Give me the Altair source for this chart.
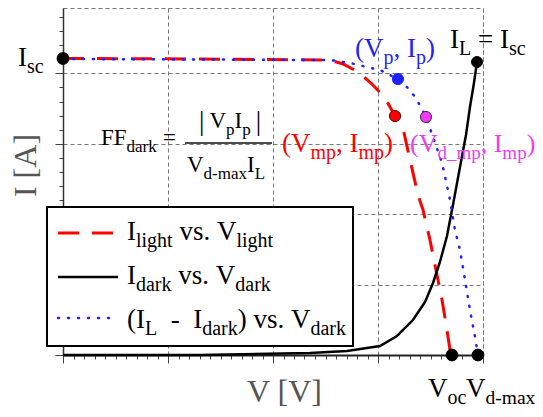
import altair as alt
import pandas as pd

FONT = "Liberation Serif"

# ---------------- data (V, A) ----------------
light_v = [0, 1.305, 2.543, 2.667, 2.810, 2.943, 3.067, 3.162, 3.248, 3.305, 3.381, 3.429,
           3.495, 3.562, 3.610, 3.657, 3.686, 3.705]
light_i = [4.212, 4.205, 4.190, 4.134, 4.020, 3.849, 3.651, 3.395, 3.153, 2.770, 2.273, 2.060,
           1.634, 1.136, 0.781, 0.355, 0.071, 0.0]

diff_v = [0, 2.543, 2.733, 3.019, 3.190, 3.305, 3.371, 3.457, 3.524, 3.610, 3.686, 3.733,
          3.781, 3.829, 3.876, 3.924, 3.952]
diff_i = [4.205, 4.190, 4.148, 4.048, 3.920, 3.764, 3.622, 3.381, 3.097, 2.727, 2.202, 1.776,
          1.491, 1.065, 0.639, 0.256, 0.0]

dark_v = [0, 1.305, 2.352, 2.705, 3.019, 3.181, 3.333, 3.448, 3.524, 3.590, 3.657, 3.714,
          3.781, 3.838, 3.876, 3.914, 3.943]
dark_i = [0.0, 0.0, 0.028, 0.057, 0.128, 0.270, 0.497, 0.753, 1.023, 1.321, 1.690, 2.131,
          2.670, 3.125, 3.523, 3.864, 4.162]

point_names = ["Isc", "IL", "Vp", "Vmp", "Vdmp", "Voc", "Vdmax"]
point_v = [0.0, 3.943, 3.190, 3.162, 3.457, 3.705, 3.952]
point_i = [4.212, 4.162, 3.920, 3.395, 3.381, 0.0, 0.0]

# ---------------- layout / style ----------------
W, H = 420, 347
XPX = 105.0           # px per volt
YPX = 70.4            # px per amp
YMAX = H / YPX
X0, YB = 63, 355      # page position of origin

RED, BLUE, MAG, BLK = "#ff0000", "#1f1fff", "#f03cf0", "#000000"
point_fill = [BLK, BLK, BLUE, RED, MAG, BLK, BLK]
point_stroke = [BLK, BLK, BLUE, "#550000", "#552255", BLK, BLK]
point_size = [140, 120, 125, 125, 125, 140, 140]


def pv(px):
    return (px - X0) / XPX


def pi(py):
    return (YB - py) / YPX


CW = {'I': 0.333, 'V': 0.722, 'L': 0.611, 'F': 0.556, 'A': 0.722, 's': 0.389, 'c': 0.444,
      'o': 0.5, 'p': 0.5, 'm': 0.778, 'd': 0.5, 'a': 0.444, 'r': 0.333, 'k': 0.5, 'l': 0.278,
      'i': 0.278, 'g': 0.5, 'h': 0.5, 't': 0.278, 'x': 0.5, 'v': 0.5, '.': 0.25, ',': 0.25,
      ' ': 0.25, '(': 0.333, ')': 0.333, '-': 0.333, '_': 0.5, '=': 0.564, '|': 0.2}


def tw(s, size):
    return sum(CW.get(c, 0.5) for c in s) * size


def build(segs, x0, y0, color, main=27, sub=20, big=27, sub_dy=7):
    out = []
    x = x0
    for s, kind in segs:
        if kind == "gap":
            x += s
            continue
        size = {"n": main, "s": sub, "b": big}[kind]
        dy = sub_dy if kind == "s" else (2 if kind == "b" else 0)
        word = ""
        for ch in s + "\0":
            if ch in (" ", "\0"):
                if word:
                    out.append(dict(text=word, v=pv(x), i=pi(y0 + dy), size=size, color=color))
                    x += tw(word, size)
                    word = ""
                if ch == " ":
                    x += tw(" ", size)
            else:
                word += ch
    return out


texts = []
texts += build([("I", "n"), ("sc", "s")], 18, 66, BLK)
texts += build([("I", "n"), ("L", "s"), (" = I", "n"), ("sc", "s")], 450, 48, BLK)
texts += build([("(V", "n"), ("p", "s"), (", I", "n"), ("p", "s"), (")", "n")], 355, 57, BLUE)
texts += build([("(V", "n"), ("mp", "s"), (", I", "n"), ("mp", "s"), (")", "n")], 282, 152, RED)
texts += build([("(V", "n"), ("d_mp", "s"), (", I", "n"), ("mp", "s"), (")", "n")], 410, 152, MAG,
               main=26, sub=19)
texts += build([("V", "n"), ("oc", "s")], 428, 397, BLK)
texts += build([("V", "n"), ("d-max", "s")], 466, 397, BLK, sub=19.5)
# FF formula
texts += build([("FF", "n"), ("dark", "s")], 101, 145, BLK, main=23, sub=17)
texts += build([("=", "n")], 163, 145, BLK, main=23, sub=17)
texts += build([("|", "b"), (5, "gap"), ("V", "n"), ("p", "s"), ("I", "n"), ("p", "s"),
                (5, "gap"), ("|", "b")], 199, 128, BLK, main=23, sub=17, big=27)
texts += build([("V", "n"), ("d-max", "s"), ("I", "n"), ("L", "s")], 187, 172, BLK, main=23, sub=17)
# legend texts
texts += build([("I", "n"), ("light", "s"), (" vs. V", "n"), ("light", "s")], 127, 240, BLK)
texts += build([("I", "n"), ("dark", "s"), (" vs. V", "n"), ("dark", "s")], 127, 284, BLK)
texts += build([("(I", "n"), ("L", "s"), ("  -  I", "n"), ("dark", "s"), (") vs. V", "n"),
                ("dark", "s")], 127, 328, BLK)
text_df = pd.DataFrame(texts)

# ---------------- scales / axes ----------------
xs = alt.Scale(domain=[0, 4], nice=False, zero=False)
ys = alt.Scale(domain=[0, YMAX], nice=False, zero=False)
major = "abs(datum.value - round(datum.value)) < 0.001"

xaxis = alt.Axis(
    values=[round(k * 0.1, 1) for k in range(41)], labels=False,
    grid=True, gridDash=[4, 3], gridColor="#777777", gridWidth=1,
    gridOpacity={"condition": {"test": major, "value": 1}, "value": 0},
    tickSize={"condition": {"test": major, "value": 8}, "value": 4},
    tickColor="#444444", tickWidth=1, domainColor="#222222", domainWidth=2,
    title="V [V]", titleFont=FONT, titleFontSize=32, titleFontWeight="normal",
    titleColor="#555555", titleX=221, titleY=46, titleAlign="center",
    titleBaseline="alphabetic", titleAngle=0,
)
yaxis = alt.Axis(
    values=[round(k * 0.2, 1) for k in range(25)], labels=False,
    grid=True, gridDash=[4, 3], gridColor="#777777", gridWidth=1,
    gridOpacity={"condition": {"test": major, "value": 1}, "value": 0},
    tickSize={"condition": {"test": major, "value": 8}, "value": 4},
    tickColor="#444444", tickWidth=1, domainColor="#333333", domainWidth=1.5,
    title="I [A]", titleFont=FONT, titleFontSize=32, titleFontWeight="normal",
    titleColor="#555555", titleX=-28, titleY=157, titleAlign="center",
    titleBaseline="alphabetic", titleAngle=270,
)


def X(f):
    return alt.X(f, type="quantitative", scale=xs, axis=xaxis)


def Y(f):
    return alt.Y(f, type="quantitative", scale=ys, axis=yaxis)


def curve(vs, is_):
    return pd.DataFrame({"v": vs, "i": is_, "k": range(len(vs))})


light = alt.Chart(curve(light_v, light_i)).mark_line(
    color=RED, strokeWidth=3, strokeDash=[21, 13]).encode(x=X("v"), y=Y("i"), order="k:Q")
dark = alt.Chart(curve(dark_v, dark_i)).mark_line(
    color=BLK, strokeWidth=2.5).encode(x=X("v"), y=Y("i"), order="k:Q")
diff = alt.Chart(curve(diff_v, diff_i)).mark_line(
    color=BLUE, strokeWidth=2.5, strokeDash=[1, 9], strokeCap="round").encode(
    x=X("v"), y=Y("i"), order="k:Q")

pts_df = pd.DataFrame({"name": point_names, "v": point_v, "i": point_i,
                       "fill": point_fill, "stroke": point_stroke, "size": point_size})
pts = alt.Chart(pts_df).mark_circle(opacity=1, strokeWidth=1).encode(
    x=X("v"), y=Y("i"),
    color=alt.Color("fill:N", scale=None),
    stroke=alt.Stroke("stroke:N", scale=None),
    size=alt.Size("size:Q", scale=None),
)

# fraction bar of FF formula
bar_df = pd.DataFrame({"v": [pv(185)], "v2": [pv(272)], "i": [pi(143)]})
frac = alt.Chart(bar_df).mark_rule(color="#111111", strokeWidth=1.3).encode(
    x=X("v"), x2="v2", y=Y("i"))

# legend
box_df = pd.DataFrame({"v": [pv(47)], "v2": [pv(353)], "i": [pi(207)], "i2": [pi(346)]})
box = alt.Chart(box_df).mark_rect(fill="white", stroke="black", strokeWidth=2).encode(
    x=X("v"), x2="v2", y=Y("i"), y2="i2")


def sample(x1, x2, y):
    return pd.DataFrame({"v": [pv(x1)], "v2": [pv(x2)], "i": [pi(y)]})


leg_red = alt.Chart(sample(58, 118, 233)).mark_rule(
    color=RED, strokeWidth=3, strokeDash=[21, 13]).encode(x=X("v"), x2="v2", y=Y("i"))
leg_blk = alt.Chart(sample(58, 118, 277)).mark_rule(
    color=BLK, strokeWidth=2.5).encode(x=X("v"), x2="v2", y=Y("i"))
leg_blu = alt.Chart(sample(58, 112, 318)).mark_rule(
    color=BLUE, strokeWidth=2.5, strokeDash=[1, 9], strokeCap="round").encode(
    x=X("v"), x2="v2", y=Y("i"))

txt = alt.Chart(text_df).mark_text(align="left", baseline="alphabetic", font=FONT).encode(
    x=X("v"), y=Y("i"), text="text:N",
    size=alt.Size("size:Q", scale=None),
    color=alt.Color("color:N", scale=None),
)

chart = alt.layer(box, light, dark, diff, pts, frac, leg_red, leg_blk, leg_blu, txt).properties(
    width=W, height=H,
    autosize=alt.AutoSizeParams(type="none"),
    padding={"left": 55, "top": 0, "right": 52, "bottom": 54},
).configure_view(stroke="#777777", strokeDash=[4, 3], strokeWidth=1)

chart.save("out.html", embed_options={"renderer": "svg", "actions": False})
